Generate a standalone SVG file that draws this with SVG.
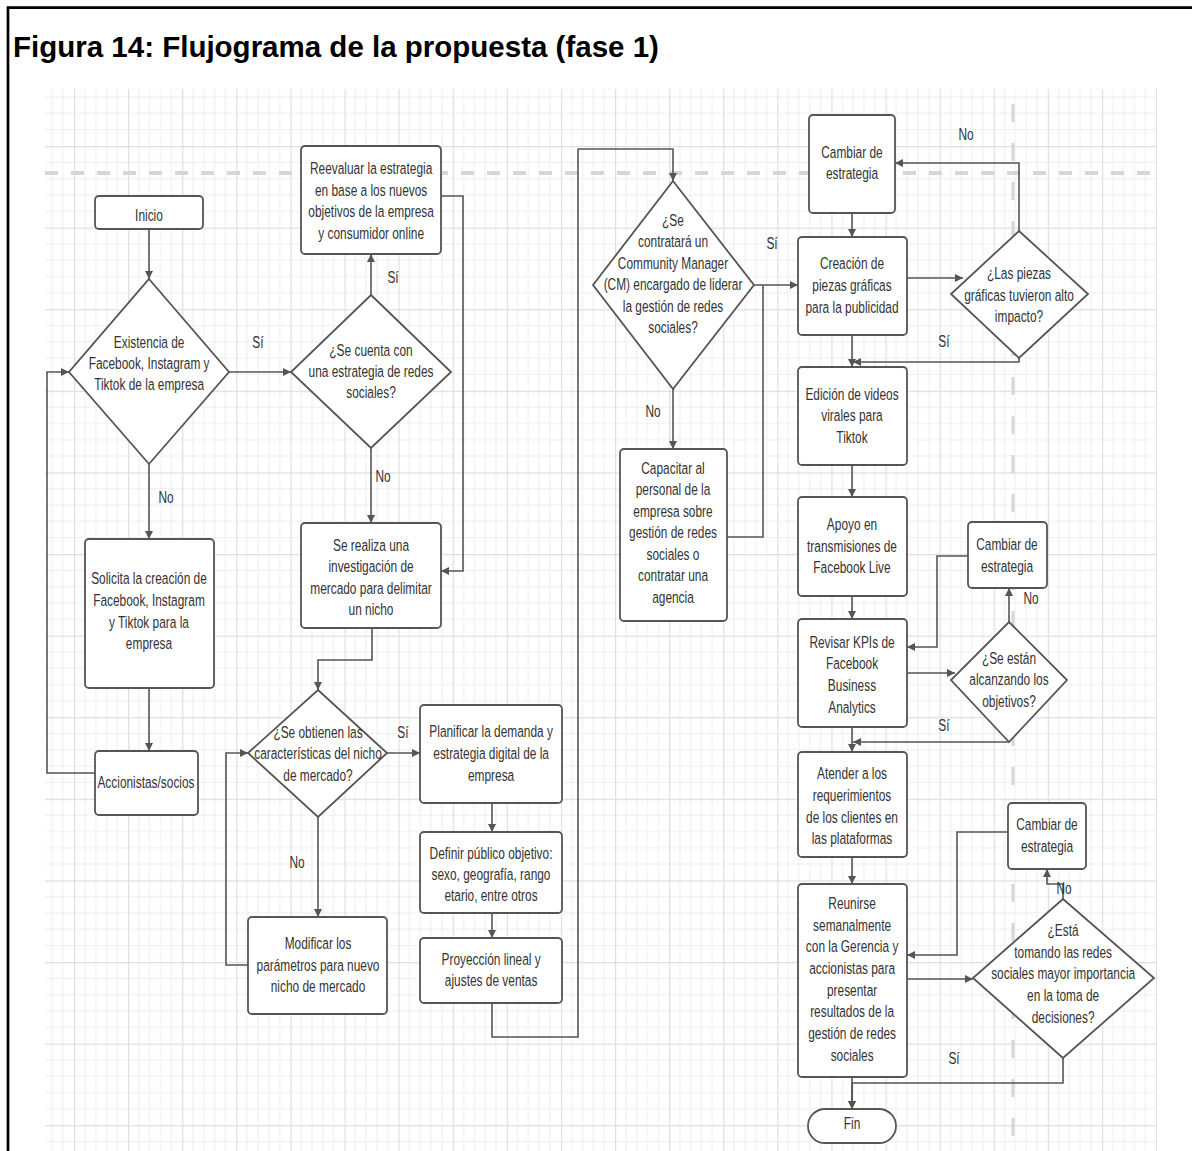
<svg xmlns="http://www.w3.org/2000/svg" width="1192" height="1151" viewBox="0 0 1192 1151">
<style>
.t{font-family:"Liberation Sans",Arial,sans-serif;font-size:17px;fill:#333;text-anchor:middle;transform-box:fill-box;transform-origin:center;transform:scaleX(.7)}
.title{font-family:"Liberation Sans",Arial,sans-serif;font-size:29.5px;font-weight:bold;fill:#000}
.box{fill:#fff;stroke:#555;stroke-width:1.8}
.c{fill:none;stroke:#555;stroke-width:1.6}
.ca{fill:none;stroke:#555;stroke-width:1.6;marker-end:url(#arr)}
</style>
<defs>
<marker id="arr" viewBox="0 0 10 10" refX="10" refY="5" markerWidth="9" markerHeight="8" markerUnits="userSpaceOnUse" orient="auto">
<path d="M0,0 L10,5 L0,10 z" fill="#555"/>
</marker>
<pattern id="grid" patternUnits="userSpaceOnUse" x="74" y="146" width="54.1" height="81.6">
<g fill="#eeeeee">
<rect x="10.32" y="0" width="1" height="81.6"/>
<rect x="21.14" y="0" width="1" height="81.6"/>
<rect x="31.96" y="0" width="1" height="81.6"/>
<rect x="42.78" y="0" width="1" height="81.6"/>
<rect x="0" y="15.82" width="54.1" height="1"/>
<rect x="0" y="32.14" width="54.1" height="1"/>
<rect x="0" y="48.46" width="54.1" height="1"/>
<rect x="0" y="64.78" width="54.1" height="1"/>
</g>
<g fill="#dedede">
<rect x="0" y="0" width="1.2" height="81.6"/>
<rect x="0" y="0" width="54.1" height="1.2"/>
</g>
</pattern>
</defs>
<rect width="1192" height="1151" fill="#fff"/>
<path d="M8,1151 V7.7 H1192" fill="none" stroke="#000" stroke-width="2.7"/>
<text class="title" x="13" y="57">Figura 14: Flujograma de la propuesta (fase 1)</text>
<g id="background">
<rect x="45" y="89" width="1112" height="1062" fill="url(#grid)"/>
<path d="M45,173 H1157" stroke="#d6d6d6" stroke-width="4" stroke-dasharray="13 13" fill="none"/>
<path d="M1013,89 V1151" stroke="#d6d6d6" stroke-width="3" stroke-dasharray="18 21" stroke-dashoffset="24" fill="none"/>
</g>
<g id="connectors">
<path class="ca" d="M149,229 V279"/>
<path class="ca" d="M229,372 H291"/>
<path class="ca" d="M149,464 V539"/>
<path class="ca" d="M149,688 V751"/>
<path class="ca" d="M95,773 H47 V372 H69"/>
<path class="ca" d="M371,295 V254"/>
<path class="ca" d="M371,448 V523"/>
<path class="ca" d="M441,196 H463 V571 H441"/>
<path class="ca" d="M372,628 V660 H318 V690"/>
<path class="ca" d="M387,753 H420"/>
<path class="ca" d="M318,817 V917"/>
<path class="ca" d="M248,965 H226 V753 H248"/>
<path class="ca" d="M492,803 V832"/>
<path class="ca" d="M492,913 V938"/>
<path class="ca" d="M492,1003 V1037 H578 V149 H673 V181"/>
<path class="ca" d="M754,285 H798"/>
<path class="ca" d="M673,389 V449"/>
<path class="c" d="M727,537 H763 V285"/>
<path class="ca" d="M852,213 V237"/>
<path class="ca" d="M907,278 H963"/>
<path class="ca" d="M1019,231 V163 H895"/>
<path class="ca" d="M1019,358 V362 H853"/>
<path class="ca" d="M852,335 V367"/>
<path class="ca" d="M852,465 V497"/>
<path class="ca" d="M852,596 V619"/>
<path class="ca" d="M968,556 H937 V647 H907"/>
<path class="ca" d="M907,673 H955"/>
<path class="ca" d="M1009,622 V588"/>
<path class="ca" d="M1009,742 H853"/>
<path class="ca" d="M852,727 V752"/>
<path class="ca" d="M852,857 V884"/>
<path class="ca" d="M1008,832 H957 V955 H907"/>
<path class="ca" d="M907,979 H973"/>
<path class="ca" d="M1063,899 V884 H1047 V869"/>
<path class="ca" d="M1063,1058 V1083 H852 V1109"/>
<path class="ca" d="M852,1077 V1109"/>
</g>
<g id="labels">
<text class="t" x="258" y="348">Sí</text>
<text class="t" x="166" y="503">No</text>
<text class="t" x="393" y="283">Sí</text>
<text class="t" x="383" y="482">No</text>
<text class="t" x="403" y="738">Sí</text>
<text class="t" x="297" y="868">No</text>
<text class="t" x="772" y="249">Sí</text>
<text class="t" x="653" y="417">No</text>
<text class="t" x="966" y="140">No</text>
<text class="t" x="944" y="347">Sí</text>
<text class="t" x="1031" y="604">No</text>
<text class="t" x="944" y="731">Sí</text>
<text class="t" x="1064" y="894">No</text>
<text class="t" x="954" y="1064">Sí</text>
</g>
<g id="inicio">
<rect class="box" x="95" y="196" width="108" height="33" rx="4"/>
<text class="t" x="149" y="221">Inicio</text>
</g>
<g id="d1">
<polygon class="box" points="149,279 229,372 149,464 69,372"/>
<text class="t" x="149"><tspan x="149" y="348">Existencia de</tspan><tspan x="149" y="369">Facebook, Instagram y</tspan><tspan x="149" y="390">Tiktok de la empresa</tspan></text>
</g>
<g id="d2">
<polygon class="box" points="371,295 451,372 371,448 291,372"/>
<text class="t" x="371"><tspan x="371" y="356">¿Se cuenta con</tspan><tspan x="371" y="377">una estrategia de redes</tspan><tspan x="371" y="398">sociales?</tspan></text>
</g>
<g id="reevaluar">
<rect class="box" x="301" y="146" width="140" height="108" rx="4"/>
<text class="t" x="371"><tspan x="371" y="174">Reevaluar la estrategia</tspan><tspan x="371" y="196">en base a los nuevos</tspan><tspan x="371" y="217">objetivos de la empresa</tspan><tspan x="371" y="239">y consumidor online</tspan></text>
</g>
<g id="investigacion">
<rect class="box" x="301" y="523" width="140" height="105" rx="4"/>
<text class="t" x="371"><tspan x="371" y="551">Se realiza una</tspan><tspan x="371" y="572">investigación de</tspan><tspan x="371" y="594">mercado para delimitar</tspan><tspan x="371" y="615">un nicho</tspan></text>
</g>
<g id="solicita">
<rect class="box" x="85" y="539" width="129" height="149" rx="4"/>
<text class="t" x="149"><tspan x="149" y="584">Solicita la creación de</tspan><tspan x="149" y="606">Facebook, Instagram</tspan><tspan x="149" y="628">y Tiktok para la</tspan><tspan x="149" y="649">empresa</tspan></text>
</g>
<g id="accionistas">
<rect class="box" x="95" y="751" width="103" height="64" rx="4"/>
<text class="t" x="146" y="788">Accionistas/socios</text>
</g>
<g id="d3">
<polygon class="box" points="318,690 387,753 318,817 248,753"/>
<text class="t" x="318"><tspan x="318" y="738">¿Se obtienen las</tspan><tspan x="318" y="759">características del nicho</tspan><tspan x="318" y="781">de mercado?</tspan></text>
</g>
<g id="planificar">
<rect class="box" x="420" y="705" width="142" height="98" rx="4"/>
<text class="t" x="491"><tspan x="491" y="737">Planificar la demanda y</tspan><tspan x="491" y="759">estrategia digital de la</tspan><tspan x="491" y="781">empresa</tspan></text>
</g>
<g id="definir">
<rect class="box" x="420" y="832" width="142" height="81" rx="4"/>
<text class="t" x="491"><tspan x="491" y="859">Definir público objetivo:</tspan><tspan x="491" y="880">sexo, geografía, rango</tspan><tspan x="491" y="901">etario,  entre otros</tspan></text>
</g>
<g id="proyeccion">
<rect class="box" x="420" y="938" width="142" height="65" rx="4"/>
<text class="t" x="491"><tspan x="491" y="965">Proyección lineal y</tspan><tspan x="491" y="986">ajustes de ventas</tspan></text>
</g>
<g id="modificar">
<rect class="box" x="248" y="917" width="139" height="97" rx="4"/>
<text class="t" x="318"><tspan x="318" y="949">Modificar los</tspan><tspan x="318" y="971">parámetros para nuevo</tspan><tspan x="318" y="992">nicho de mercado</tspan></text>
</g>
<g id="d4">
<polygon class="box" points="673,181 754,285 673,389 593,285"/>
<text class="t" x="673"><tspan x="673" y="226">¿Se</tspan><tspan x="673" y="247">contratará un</tspan><tspan x="673" y="269">Community Manager</tspan><tspan x="673" y="290">(CM) encargado de liderar</tspan><tspan x="673" y="312">la gestión de redes</tspan><tspan x="673" y="333">sociales?</tspan></text>
</g>
<g id="capacitar">
<rect class="box" x="620" y="449" width="107" height="172" rx="4"/>
<text class="t" x="673"><tspan x="673" y="474">Capacitar al</tspan><tspan x="673" y="495">personal de la</tspan><tspan x="673" y="517">empresa sobre</tspan><tspan x="673" y="538">gestión de redes</tspan><tspan x="673" y="560">sociales o</tspan><tspan x="673" y="581">contratar una</tspan><tspan x="673" y="603">agencia</tspan></text>
</g>
<g id="cambiar1">
<rect class="box" x="809" y="115" width="86" height="98" rx="4"/>
<text class="t" x="852"><tspan x="852" y="158">Cambiar de</tspan><tspan x="852" y="179">estrategia</tspan></text>
</g>
<g id="creacion">
<rect class="box" x="798" y="237" width="109" height="98" rx="4"/>
<text class="t" x="852"><tspan x="852" y="269">Creación de</tspan><tspan x="852" y="291">piezas gráficas</tspan><tspan x="852" y="313">para la publicidad</tspan></text>
</g>
<g id="d5">
<polygon class="box" points="1019,231 1088,294 1019,358 951,294"/>
<text class="t" x="1019"><tspan x="1019" y="279">¿Las piezas</tspan><tspan x="1019" y="301">gráficas tuvieron alto</tspan><tspan x="1019" y="322">impacto?</tspan></text>
</g>
<g id="edicion">
<rect class="box" x="798" y="367" width="109" height="98" rx="4"/>
<text class="t" x="852"><tspan x="852" y="400">Edición de videos</tspan><tspan x="852" y="421">virales para</tspan><tspan x="852" y="443">Tiktok</tspan></text>
</g>
<g id="apoyo">
<rect class="box" x="798" y="497" width="109" height="99" rx="4"/>
<text class="t" x="852"><tspan x="852" y="530">Apoyo en</tspan><tspan x="852" y="552">transmisiones de</tspan><tspan x="852" y="573">Facebook Live</tspan></text>
</g>
<g id="revisar">
<rect class="box" x="798" y="619" width="109" height="108" rx="4"/>
<text class="t" x="852"><tspan x="852" y="648">Revisar KPIs de</tspan><tspan x="852" y="669">Facebook</tspan><tspan x="852" y="691">Business</tspan><tspan x="852" y="713">Analytics</tspan></text>
</g>
<g id="cambiar2">
<rect class="box" x="968" y="522" width="79" height="66" rx="4"/>
<text class="t" x="1007"><tspan x="1007" y="550">Cambiar de</tspan><tspan x="1007" y="572">estrategia</tspan></text>
</g>
<g id="d6">
<polygon class="box" points="1009,622 1067,680 1009,742 951,680"/>
<text class="t" x="1009"><tspan x="1009" y="664">¿Se están</tspan><tspan x="1009" y="685">alcanzando los</tspan><tspan x="1009" y="707">objetivos?</tspan></text>
</g>
<g id="atender">
<rect class="box" x="798" y="752" width="109" height="105" rx="4"/>
<text class="t" x="852"><tspan x="852" y="779">Atender a los</tspan><tspan x="852" y="801">requerimientos</tspan><tspan x="852" y="823">de los clientes en</tspan><tspan x="852" y="844">las plataformas</tspan></text>
</g>
<g id="reunirse">
<rect class="box" x="798" y="884" width="109" height="193" rx="4"/>
<text class="t" x="852"><tspan x="852" y="909">Reunirse</tspan><tspan x="852" y="931">semanalmente</tspan><tspan x="852" y="952">con la Gerencia y</tspan><tspan x="852" y="974">accionistas para</tspan><tspan x="852" y="996">presentar</tspan><tspan x="852" y="1017">resultados de la</tspan><tspan x="852" y="1039">gestión de redes</tspan><tspan x="852" y="1061">sociales</tspan></text>
</g>
<g id="cambiar3">
<rect class="box" x="1008" y="803" width="78" height="66" rx="4"/>
<text class="t" x="1047"><tspan x="1047" y="830">Cambiar de</tspan><tspan x="1047" y="852">estrategia</tspan></text>
</g>
<g id="d7">
<polygon class="box" points="1063,899 1154,978 1063,1058 973,978"/>
<text class="t" x="1063"><tspan x="1063" y="936">¿Está</tspan><tspan x="1063" y="958">tomando las redes</tspan><tspan x="1063" y="979">sociales mayor importancia</tspan><tspan x="1063" y="1001">en la toma de</tspan><tspan x="1063" y="1023">decisiones?</tspan></text>
</g>
<g id="fin">
<rect class="box" x="808" y="1109" width="88" height="34" rx="17"/>
<text class="t" x="852" y="1129">Fin</text>
</g>
</svg>
